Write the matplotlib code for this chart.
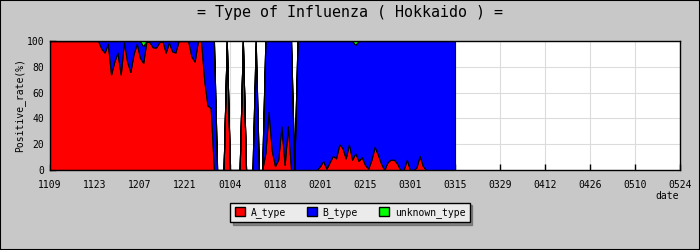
import matplotlib
matplotlib.use('Agg')
import matplotlib.pyplot as plt
from matplotlib.patches import Patch, Rectangle

plt.rcParams['font.family'] = ['DejaVu Sans Mono']

# daily positive rate (%), day 0 = 11/09, last reported day = 03/15
A_type = [100, 100, 100, 100, 100, 100, 100, 100, 100, 100,
          100, 100, 100, 100, 100, 100, 94, 91, 98, 74,
          84, 91, 74, 99, 84, 76, 90, 98, 87, 83,
          100, 99, 95, 95, 99, 100, 91, 99, 92, 91,
          100, 100, 100, 100, 88, 84, 100, 100, 69, 50,
          48, 0, 0, 0, 0, 100, 0, 0, 0, 0,
          100, 0, 0, 0, 0, 0, 0, 13, 45, 15,
          3, 8, 34, 4, 34, 0, 0, 0, 0, 0,
          0, 0, 0, 0, 3, 7, 1, 6, 11, 9,
          20, 17, 9, 20, 8, 13, 7, 10, 4, 1,
          8, 18, 12, 5, 0, 6, 8, 8, 5, 0,
          0, 8, 0, 0, 2, 11, 3, 0, 0, 0,
          0, 0, 0, 0, 0, 0, 0]
B_type = [0, 0, 0, 0, 0, 0, 0, 0, 0, 0,
          0, 0, 0, 0, 0, 0, 6, 9, 2, 26,
          16, 9, 26, 1, 16, 24, 10, 2, 13, 13,
          0, 1, 5, 5, 1, 0, 9, 1, 8, 9,
          0, 0, 0, 0, 12, 16, 0, 0, 31, 50,
          52, 100, 0, 0, 0, 0, 0, 0, 0, 0,
          0, 0, 0, 0, 100, 0, 0, 87, 55, 85,
          97, 92, 66, 96, 66, 100, 0, 100, 100, 100,
          100, 100, 100, 100, 97, 93, 99, 94, 89, 91,
          80, 83, 91, 80, 92, 84, 93, 90, 96, 99,
          92, 82, 88, 95, 100, 94, 92, 92, 95, 100,
          100, 92, 100, 100, 98, 89, 97, 100, 100, 100,
          100, 100, 100, 100, 100, 100, 100]
unknown_type = [0, 0, 0, 0, 0, 0, 0, 0, 0, 0,
                0, 0, 0, 0, 0, 0, 0, 0, 0, 0,
                0, 0, 0, 0, 0, 0, 0, 0, 0, 4,
                0, 0, 0, 0, 0, 0, 0, 0, 0, 0,
                0, 0, 0, 0, 0, 0, 0, 0, 0, 0,
                0, 0, 0, 0, 0, 0, 0, 0, 0, 0,
                0, 0, 0, 0, 0, 0, 0, 0, 0, 0,
                0, 0, 0, 0, 0, 0, 0, 0, 0, 0,
                0, 0, 0, 0, 0, 0, 0, 0, 0, 0,
                0, 0, 0, 0, 0, 3, 0, 0, 0, 0,
                0, 0, 0, 0, 0, 0, 0, 0, 0, 0,
                0, 0, 0, 0, 0, 0, 0, 0, 0, 0,
                0, 0, 0, 0, 0, 0, 0]
xlabels = ['1109', '1123', '1207', '1221', '0104', '0118', '0201', '0215',
           '0301', '0315', '0329', '0412', '0426', '0510', '0524']
names = ['A_type', 'B_type', 'unknown_type']
colors = ['#ff0000', '#0000ff', '#00ff00']

W, H = 700, 250
fig = plt.figure(figsize=(7, 2.5), dpi=100, facecolor='#c8c8c8')
ax = fig.add_axes([50 / W, 80 / H, 630 / W, 129 / H])
ax.set_facecolor('white')

days = list(range(len(A_type)))
ax.stackplot(days, A_type, B_type, unknown_type, colors=colors,
             edgecolor='black', linewidth=0.8, zorder=2)

ax.set_xlim(0, 14 * (len(xlabels) - 1))
ax.set_ylim(0, 100)
ax.set_xticks(range(0, 14 * len(xlabels), 14))
ax.set_xticklabels(xlabels)
ax.set_yticks(range(0, 101, 20))
ax.set_yticks(range(10, 100, 20), minor=True)
ax.grid(True, which='major', color='#dcdcdc', linewidth=0.8, zorder=0)
ax.set_axisbelow(True)
ax.tick_params(which='major', direction='in', length=4, width=1, labelsize=7,
               top=False, right=False)
ax.tick_params(axis='x', pad=7)
ax.tick_params(axis='y', pad=4)
ax.tick_params(which='minor', direction='in', length=2.5, width=1)
for sp in ax.spines.values():
    sp.set_linewidth(1)
    sp.set_zorder(5)

fig.text(0.5, 1 - 13 / H, '= Type of Influenza ( Hokkaido ) =',
         ha='center', va='center', fontsize=10.8)
fig.text(20 / W, 1 - 105 / H, 'Positive_rate(%)', rotation=90,
         ha='center', va='center', fontsize=7)
fig.text(667 / W, 1 - 196 / H, 'date', ha='center', va='center', fontsize=7)

handles = [Patch(facecolor=c, edgecolor='black', label=n) for c, n in zip(colors, names)]
fig.legend(handles=handles, loc='center', bbox_to_anchor=(0.5, 1 - 212.5 / H),
           ncol=3, fancybox=False, shadow=True, facecolor='#ebebeb',
           edgecolor='black', framealpha=1, fontsize=7, handlelength=1,
           handleheight=1, handletextpad=0.6, columnspacing=2.2, borderpad=0.45)

fig.patches.append(Rectangle((0, 0), 1, 1, transform=fig.transFigure, fill=False,
                             edgecolor='black', linewidth=1.5))

fig.savefig('out.png', dpi=100, facecolor=fig.get_facecolor())
